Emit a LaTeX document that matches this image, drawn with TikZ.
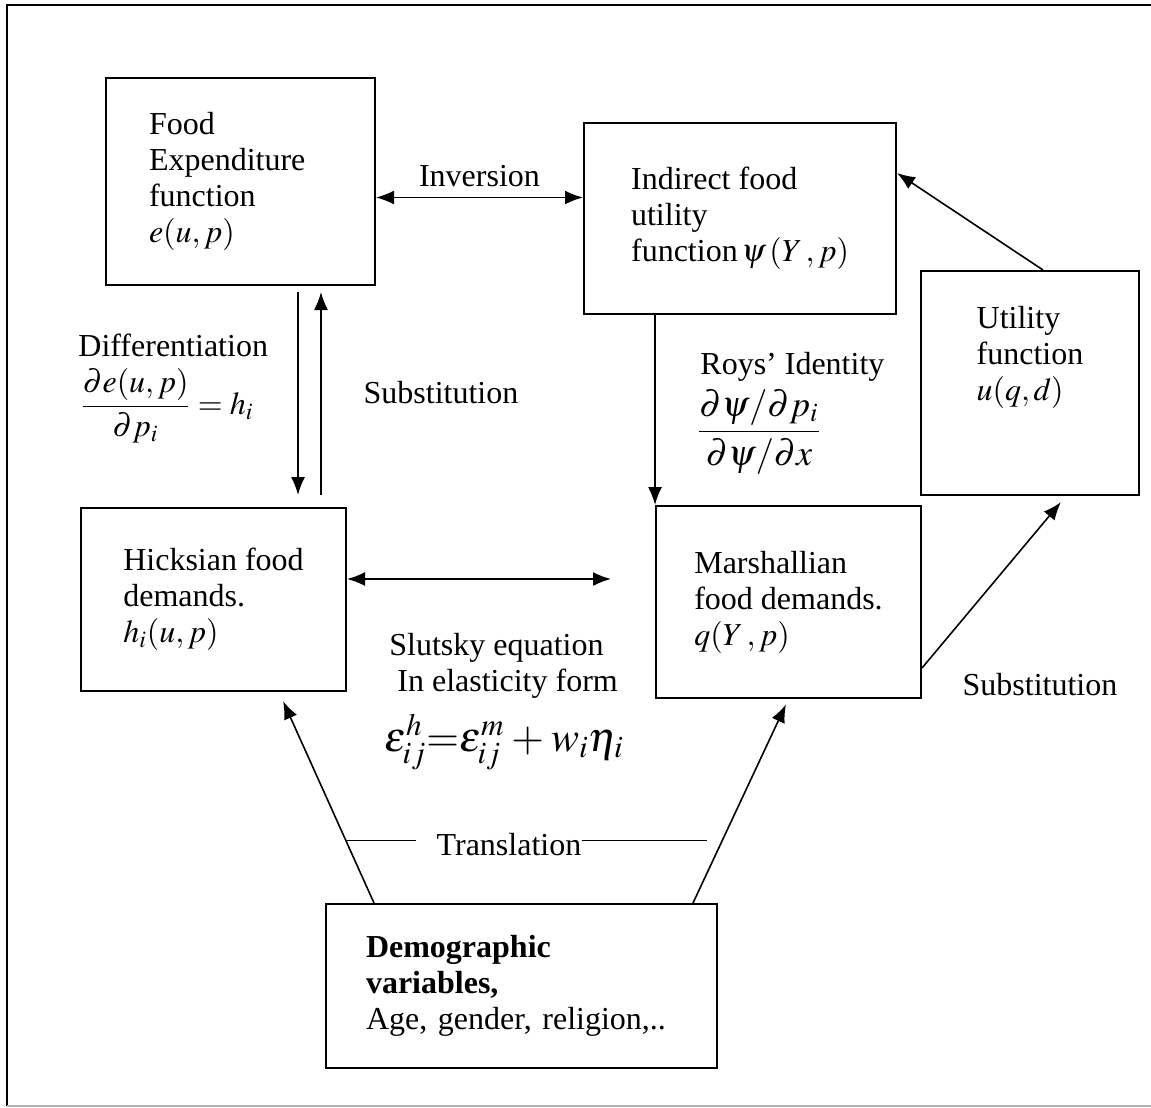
\documentclass[tikz,border=0pt]{standalone}
\usepackage{mathptmx}
\usepackage{fontspec}
\setmainfont{Liberation Serif}
\usetikzlibrary{arrows.meta, positioning}

\begin{document}
\begin{tikzpicture}[x=0.5pt, y=-0.5pt,
    font=\fontsize{16}{18}\selectfont,
    box/.style={draw, line width=1pt, anchor=north west, align=left, inner sep=0pt},
    arr/.style={-{Latex[length=9pt,width=7pt]}, line width=0.8pt},
    dbl/.style={{Latex[length=9pt,width=7pt]}-{Latex[length=9pt,width=7pt]}, line width=0.9pt},
    lbl/.style={inner sep=0pt, align=left}]

    % Рамка
    \useasboundingbox (0,0) rectangle (1151,1108);
    \draw[line width=1pt] (1151,5) -- (7,5) -- (7,1106);
    \draw[line width=1pt, black!30] (7,1106) -- (1151,1106);

    % Блоки
    \node[box, minimum width=134.5pt, minimum height=103.5pt, text width=91.5pt, inner xsep=21.5pt] (expfn) at (105,77)
        {Food\\Expenditure\\function\\$e(u,p)$};
    \node[box, minimum width=156pt, minimum height=95.5pt] (indfn) at (583,122)
        {Indirect food\\utility\\function$\,\psi\,(Y\,,p)$};
    \node[box, minimum width=109pt, minimum height=112pt] (util) at (920,270)
        {Utility\\function\\$u(q,d)$\\[12pt]\mbox{}};
    \node[box, minimum width=132.5pt, minimum height=91.5pt] (hick) at (80,507)
        {Hicksian food\\demands.\\$h_i(u,p)$};
    \node[box, minimum width=132.5pt, minimum height=96pt] (marsh) at (655,505)
        {Marshallian\\food demands.\\$q(Y\,,p)$};
    \node[box, minimum width=195.5pt, minimum height=82pt, text width=155.5pt, inner xsep=20pt] (demo) at (325,903)
        {\textbf{Demographic}\\\textbf{variables,}\\Age, gender, religion,..};

    % Стрелки сверху
    \draw[dbl] ([yshift=-8pt]expfn.east) -- ([yshift=-8pt]expfn.east -| indfn.west)
        node[lbl, midway, above=5pt] (inv) {Inversion};
    \draw[arr, shorten <=3pt, shorten >=6pt] ([xshift=28.75pt]expfn.south) -- ([xshift=28.75pt]expfn.south |- hick.north);
    \draw[arr, shorten <=6pt, shorten >=3pt] ([xshift=40.25pt]expfn.south |- hick.north) -- ([xshift=40.25pt]expfn.south);
    \draw[arr] (marsh.north west |- indfn.south) -- (marsh.north west);
    \draw[arr] ([xshift=6.5pt]util.north) -- ([yshift=22.75pt]indfn.east);
    \draw[arr, shorten >=4pt] ([yshift=-33pt]marsh.east) -- ([xshift=18pt]util.south);

    % Подписи
    \node[lbl, anchor=base west] (diftxt) at (78,356) {Differentiation};
    \node[lbl, anchor=west] (difeq) at (80,406) {$\displaystyle\frac{\partial e(u,p)}{\partial p_i}=h_i$};
    \node[lbl] (subst) at (441,393) {Substitution};
    \node[lbl, anchor=base west] (roytxt) at (700,374) {Roys' Identity};
    \node[lbl, font=\fontsize{18}{22}\selectfont] (royeq) at (759,432)
        {$\displaystyle\frac{\partial\psi/\partial p_i}{\partial\psi/\partial x}$};
    \node[lbl] (substb) at (1040,685) {Substitution};

    % Слуцкий
    \draw[dbl, shorten >=22pt] ([yshift=10.25pt]hick.east) -- ([yshift=10.25pt]hick.east -| marsh.west);
    \node[lbl, anchor=north west] (slut) at (389,633) {Slutsky equation\\~In elasticity form};
    \node[lbl, font=\fontsize{21}{25}\selectfont] (slueq) at (504,742)
        {$\epsilon_{ij}^h{=}\epsilon_{ij}^m\mkern3mu{+}\mkern3mu w_i\eta_i$};

    % Демография
    \draw[arr, shorten >=5pt] ([xshift=-73.75pt]demo.north) -- coordinate[pos=0.296] (trl) ([xshift=32.75pt]hick.south);
    \draw[arr, shorten >=3pt] ([xshift=85.75pt]demo.north) -- coordinate[pos=0.306] (trr) (marsh.south);
    \node[lbl, anchor=base] (transl) at (509,855) {Translation};
    \draw[line width=0.7pt] (trl) -- ([xshift=-10pt]transl.west |- trl);
    \draw[line width=0.7pt] (transl.east |- trr) -- ([xshift=-7.5pt]trr);

\end{tikzpicture}
\end{document}
